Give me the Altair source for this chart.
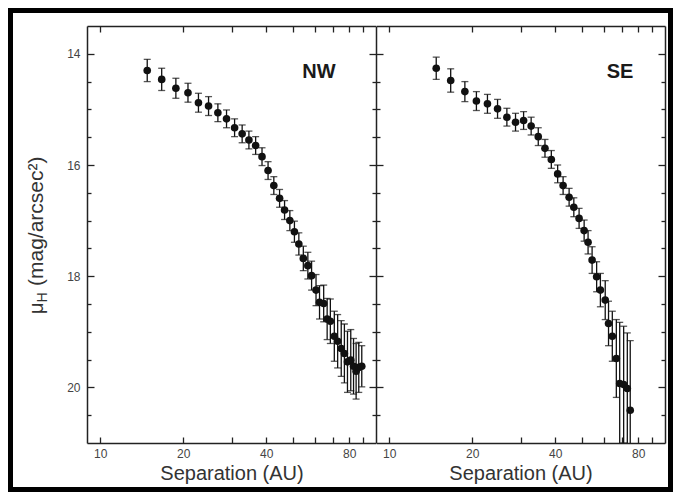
import altair as alt
import pandas as pd

# ---- data (Separation in AU, mu_H in mag/arcsec^2, 1-sigma error) ----
nw_sep = [14.8, 16.7, 18.8, 20.8, 22.7, 24.7, 26.7, 28.7, 30.7, 32.7, 34.6, 36.6, 38.6, 40.6,
          42.6, 44.7, 46.6, 48.7, 50.6, 52.5, 54.5, 56.6, 58.4, 60.6, 62.4, 64.6, 66.5, 68.3,
          70.6, 72.6, 74.8, 76.8, 78.8, 81.0, 82.9, 84.7, 86.6, 88.8]
nw_mu = [14.30, 14.46, 14.62, 14.70, 14.88, 14.94, 15.06, 15.17, 15.33, 15.44, 15.55, 15.65,
         15.85, 16.10, 16.37, 16.60, 16.81, 17.00, 17.20, 17.42, 17.68, 17.81, 17.99, 18.25,
         18.47, 18.49, 18.77, 18.81, 19.08, 19.17, 19.30, 19.39, 19.54, 19.51, 19.62, 19.71,
         19.64, 19.62]
nw_err = [0.20, 0.20, 0.18, 0.17, 0.17, 0.17, 0.16, 0.16, 0.16, 0.16, 0.16, 0.16, 0.16, 0.16,
          0.16, 0.16, 0.17, 0.18, 0.19, 0.20, 0.22, 0.24, 0.26, 0.28, 0.30, 0.33, 0.37, 0.40,
          0.45, 0.48, 0.50, 0.53, 0.55, 0.55, 0.50, 0.50, 0.45, 0.37]

se_sep = [14.8, 16.7, 18.8, 20.7, 22.7, 24.7, 26.7, 28.7, 30.7, 32.7, 34.7, 36.7, 38.7, 40.8,
          42.7, 44.9, 46.7, 48.8, 50.9, 52.6, 54.4, 56.5, 58.3, 60.7, 62.4, 64.4, 66.6, 68.5,
          70.8, 73.0, 74.8]
se_mu = [14.26, 14.48, 14.68, 14.85, 14.90, 14.99, 15.14, 15.23, 15.20, 15.30, 15.49, 15.70,
         15.90, 16.16, 16.37, 16.58, 16.76, 16.96, 17.18, 17.39, 17.71, 18.01, 18.25, 18.43,
         18.85, 19.08, 19.48, 19.93, 19.95, 20.02, 20.41]
se_err = [0.20, 0.21, 0.18, 0.17, 0.17, 0.17, 0.16, 0.16, 0.16, 0.16, 0.16, 0.16, 0.16, 0.16,
          0.16, 0.16, 0.17, 0.18, 0.19, 0.21, 0.24, 0.27, 0.30, 0.35, 0.40, 0.45, 0.70, 1.10,
          1.05, 1.00, 1.25]

x_domain = [8.95, 100]
y_domain = [13.5, 21]
x_ticks = [10, 20, 30, 40, 50, 60, 70, 80, 90]
x_labels = [10, 20, 40, 80]
y_major = [14, 16, 18, 20]
y_minor = [14.5, 15, 15.5, 16.5, 17, 17.5, 18.5, 19, 19.5, 20.5]

W = 289
H = 417
FONT = "Liberation Sans"
INK = "#111111"


def A(**kw):
    base = dict(grid=False, zindex=1, minExtent=0, title=None)
    base.update(kw)
    return alt.Axis(**base)


def panel(sep, mu, err, label, label_x, first):
    df = pd.DataFrame({
        "sep": sep,
        "mu": mu,
        "lo": [m - e for m, e in zip(mu, err)],
        "hi": [m + e for m, e in zip(mu, err)],
    })
    one = pd.DataFrame({"k": [0]})
    xs = alt.Scale(type="log", domain=x_domain, nice=False)
    ys = alt.Scale(domain=y_domain, reverse=True, nice=False, zero=False)

    x_lab = A(orient="bottom", values=x_labels, ticks=False, domain=True, labels=True,
              labelPadding=5, labelFlush=False, labelOverlap=False, format="d",
              title="Separation (AU)", titlePadding=4)
    x_in_bottom = A(orient="top", offset=-H, values=x_ticks, ticks=True, tickSize=6,
                    labels=False, domain=False)
    x_in_top = A(orient="bottom", offset=-H, values=x_ticks, ticks=True, tickSize=6,
                 labels=False, domain=True)
    y_lab = A(orient="left", values=y_major, ticks=False, domain=True, labels=first,
              labelPadding=7, labelFlush=False, labelOverlap=False)
    y_in_left_major = A(orient="right", offset=-W, values=y_major, ticks=True, tickSize=7,
                        labels=False, domain=False)
    y_in_left_minor = A(orient="right", offset=-W, values=y_minor, ticks=True, tickSize=4,
                        labels=False, domain=False)
    y_in_right_major = A(orient="left", offset=-W, values=y_major, ticks=True, tickSize=7,
                         labels=False, domain=not first)
    y_in_right_minor = A(orient="left", offset=-W, values=y_minor, ticks=True, tickSize=4,
                         labels=False, domain=False)

    bg = alt.Chart(one).mark_rect(color="white").encode(
        x=alt.value(-74 if first else 0),
        x2=alt.value(W if first else W + 3),
        y=alt.value(-13),
        y2=alt.value(H + 44),
    )
    bars = alt.Chart(df).mark_rule(color=INK, strokeWidth=1.3, clip=True).encode(
        x=alt.X("sep:Q", scale=xs, axis=x_lab),
        y=alt.Y("lo:Q", scale=ys, axis=y_lab),
        y2="hi:Q",
    )
    cap_hi = alt.Chart(df).mark_tick(color=INK, orient="horizontal", size=7,
                                     thickness=1.3, clip=True).encode(
        x=alt.X("sep:Q", scale=xs, axis=x_in_bottom),
        y=alt.Y("hi:Q", scale=ys, axis=y_in_left_major),
    )
    cap_lo = alt.Chart(df).mark_tick(color=INK, orient="horizontal", size=7,
                                     thickness=1.3, clip=True).encode(
        x=alt.X("sep:Q", scale=xs, axis=x_in_top),
        y=alt.Y("lo:Q", scale=ys, axis=y_in_left_minor),
    )
    pts = alt.Chart(df).mark_point(filled=True, color=INK, size=58, opacity=1,
                                   clip=True).encode(
        x=alt.X("sep:Q", scale=xs, axis=None),
        y=alt.Y("mu:Q", scale=ys, axis=y_in_right_major),
    )
    ghost = alt.Chart(df).mark_point(opacity=0).encode(
        x=alt.X("sep:Q", scale=xs, axis=None),
        y=alt.Y("mu:Q", scale=ys, axis=y_in_right_minor),
    )
    tag = alt.Chart(one).mark_text(text=label, font=FONT, fontSize=20, fontWeight="bold",
                                   color="#1a1a1a", align="center",
                                   baseline="middle").encode(
        x=alt.value(label_x), y=alt.value(46))

    layers = [bg, bars, cap_hi, cap_lo, pts, ghost, tag]
    if first:
        t1 = alt.Chart(one).mark_text(text="μ", font=FONT, fontSize=20, angle=270,
                                      align="left", baseline="alphabetic",
                                      color="#333333").encode(
            x=alt.value(-44.5), y=alt.value(288))
        t2 = alt.Chart(one).mark_text(text="H", font=FONT, fontSize=14, angle=270,
                                      align="left", baseline="alphabetic",
                                      color="#333333").encode(
            x=alt.value(-40.5), y=alt.value(276.5))
        t3 = alt.Chart(one).mark_text(text="(mag/arcsec²)", font=FONT, fontSize=21,
                                      angle=270, align="left", baseline="alphabetic",
                                      color="#333333").encode(
            x=alt.value(-44.5), y=alt.value(260))
        layers += [t1, t2, t3]

    return alt.layer(*layers).resolve_axis(x="independent", y="independent").properties(
        width=W, height=H)


left = panel(nw_sep, nw_mu, nw_err, "NW", 232, True)
right = panel(se_sep, se_mu, se_err, "SE", 244, False)

chart = alt.hconcat(left, right, spacing=0, bounds="flush").properties(
    background="black", padding=5
).configure_view(strokeWidth=0).configure_axis(
    domainColor="#222222", tickColor="#222222", domainWidth=1.5, tickWidth=1.3,
    labelFont=FONT, labelFontSize=12, labelColor="#444444",
    titleFont=FONT, titleFontSize=20, titleColor="#333333", titleFontWeight="normal",
)

chart.save("out.html", embed_options={"renderer": "svg", "actions": False})
